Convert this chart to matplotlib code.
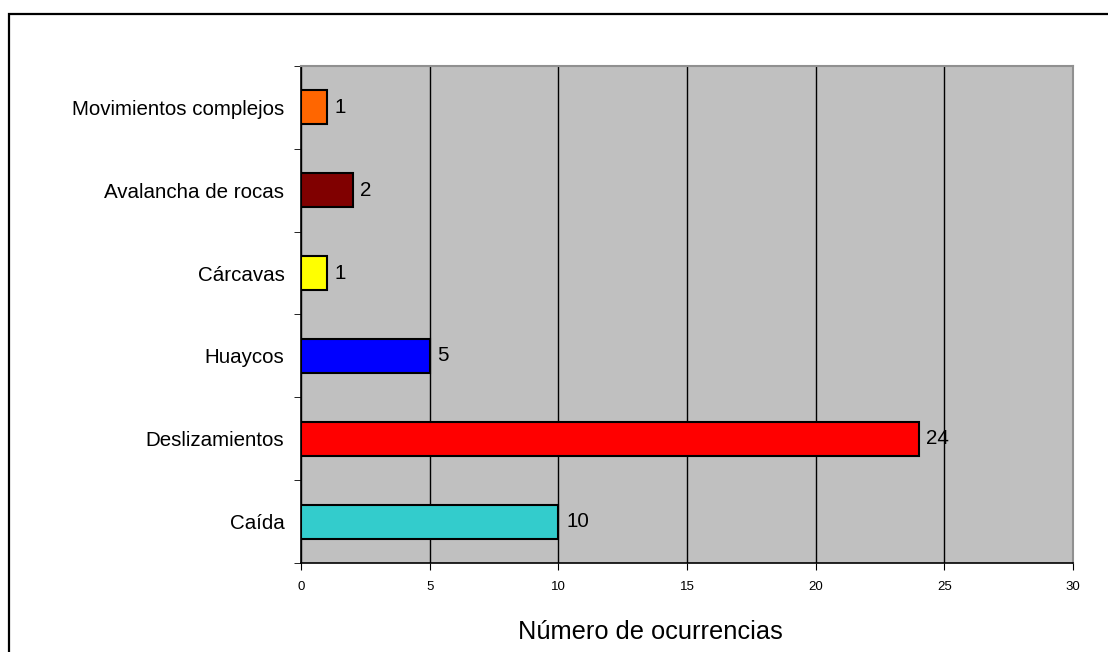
import matplotlib
matplotlib.use("Agg")
import matplotlib.pyplot as plt
from matplotlib.patches import Rectangle

plt.rcParams['font.family'] = ['Liberation Sans', 'DejaVu Sans']

categorias = ["Caída", "Deslizamientos", "Huaycos", "Cárcavas",
              "Avalancha de rocas", "Movimientos complejos"]
valores = [10, 24, 5, 1, 2, 1]
colores = ["#33CCCC", "#FF0000", "#0000FF", "#FFFF00", "#800000", "#FF6600"]
xticks = [0, 5, 10, 15, 20, 25, 30]

fig = plt.figure(figsize=(11.08, 6.52), dpi=100)
ax = fig.add_axes([0.2717, 0.1365, 0.6967, 0.7623])
ax.set_facecolor("#C0C0C0")

pos = range(len(categorias))
ax.barh(pos, valores, height=0.41, color=colores, edgecolor="black",
        linewidth=1.5, zorder=3)
for y, v in zip(pos, valores):
    ax.text(v + 0.3, y, str(v), va="center", ha="left", fontsize=14.8, zorder=4)

ax.set_xlim(0, 30)
ax.set_ylim(-0.5, len(categorias) - 0.5)
ax.set_xticks(xticks)
ax.set_xticklabels([str(t) for t in xticks], fontsize=9.5)
ax.set_yticks(list(pos))
ax.set_yticklabels(categorias, fontsize=14.8)
ax.set_yticks([p - 0.5 for p in range(len(categorias) + 1)], minor=True)
ax.tick_params(axis="y", which="major", length=0, pad=12)
ax.tick_params(axis="y", which="minor", length=5, direction="out", color="black")
ax.tick_params(axis="x", length=5, direction="out", pad=8)

ax.xaxis.grid(True, color="black", linewidth=1, zorder=0)
ax.set_axisbelow(True)
for s in ["top", "right"]:
    ax.spines[s].set_color("#909090")
    ax.spines[s].set_linewidth(1.5)
for s in ["left", "bottom"]:
    ax.spines[s].set_color("black")
    ax.spines[s].set_linewidth(1.2)

fig.text(0.5866, 0.031, "Número de ocurrencias", ha="center", va="center",
         fontsize=18.3)

# marco exterior
fig.patches.append(Rectangle((0.0081, -0.05), 1.1, 0.9785 + 0.05,
                             transform=fig.transFigure, fill=False,
                             edgecolor="black", linewidth=1.6))

fig.savefig("out.png", dpi=100)
